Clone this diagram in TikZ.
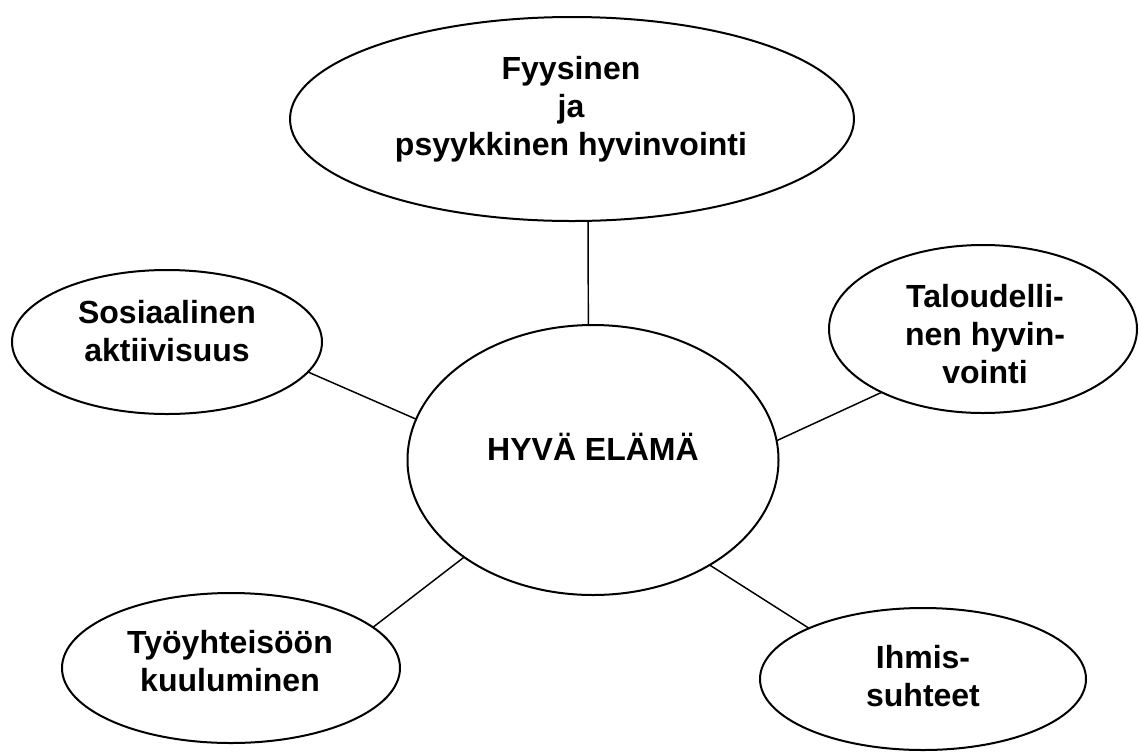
\documentclass[tikz,border=0pt]{standalone}
\usepackage{fontspec}
\setmainfont{Liberation Sans}
\usetikzlibrary{shapes.geometric}
\begin{document}
\begin{tikzpicture}[x=.75pt,y=-.75pt]%
        \useasboundingbox (0,0) rectangle (1139,751);%%
        \begin{scope}[shape=ellipse,inner sep=0pt,outer sep=0pt]
        \tikzstyle{every node}=[draw,line width=1.5pt] %%
        \node[minimum width=564*.75pt,minimum height=204*.75pt] (fyys) at (572,119) {}; %%
        \node[minimum width=371*.75pt,minimum height=270*.75pt] (hyva) at (593,460) {}; %%
        \node[minimum width=310*.75pt,minimum height=144*.75pt] (sos) at (167,342) {}; %%
        \node[minimum width=308*.75pt,minimum height=168*.75pt] (talous) at (983,329) {}; %%
        \node[minimum width=338*.75pt,minimum height=150*.75pt] (tyo) at (231,668) {}; %%
        \node[minimum width=326*.75pt,minimum height=142*.75pt] (ihmis) at (923,679) {}; %%
        \end{scope}
        \begin{scope}[align=center]
        \tikzstyle{every node}=[font=\fontsize{24}{28.5}\selectfont\bfseries] %%
        \node (fyys-t) at (571,109) {Fyysinen\\ja\\psyykkinen hyvinvointi}; %%
        \node (hyva-t) at (593,447) {HYVÄ ELÄMÄ}; %%
        \node (sos-t) at (167,331) {Sosiaalinen\\aktiivisuus}; %%
        \node (talous-t) at (985,334) {Taloudelli-\\nen hyvin-\\vointi}; %%
        \node (tyo-t) at (230,661) {Työyhteisöön\\kuuluminen}; %%
        \node (ihmis-t) at (923,676) {Ihmis-\\suhteet}; %%
        \end{scope}
        \begin{scope}[line width=1.1pt]
        \draw (fyys.-81)--(hyva.92); %%
        \draw (sos.-12.7)--(hyva.167.5); %%
        \draw (talous.212)--(hyva.6.5); %%
        \draw (tyo.16.5)--(hyva.217.4); %%
        \draw (ihmis.156)--(hyva.-42.4); %%
        \end{scope}
\end{tikzpicture}
\end{document}
